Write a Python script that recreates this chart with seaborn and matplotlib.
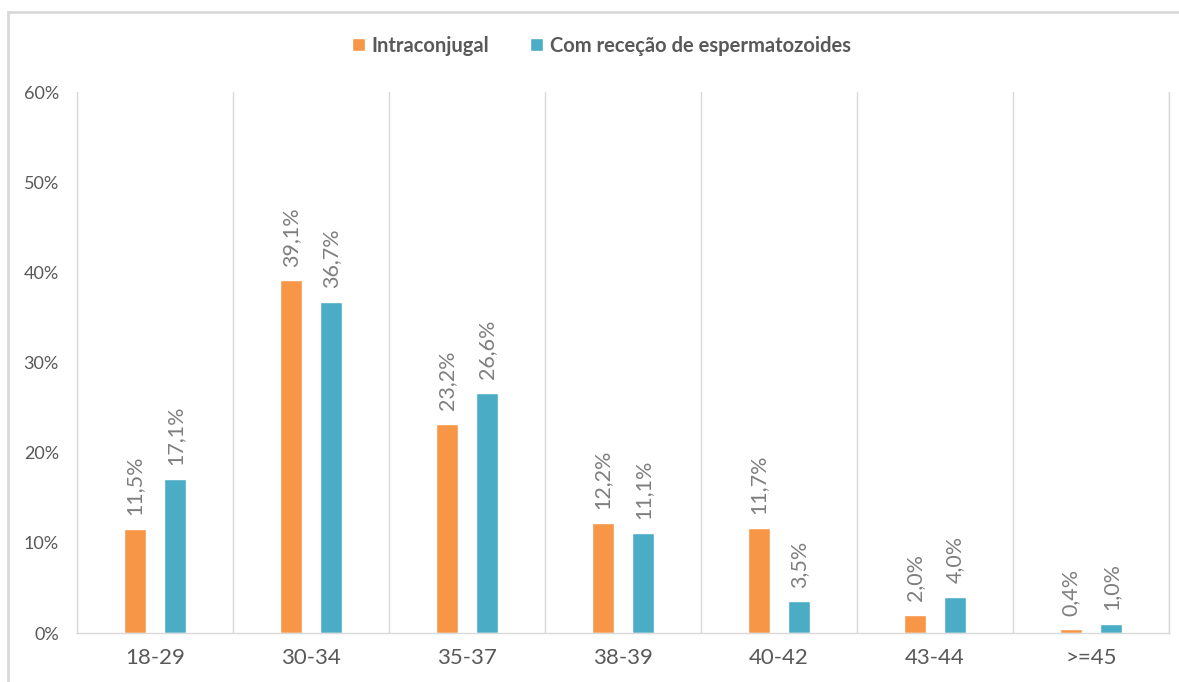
import matplotlib.pyplot as plt
import numpy as np
import pandas as pd
import seaborn as sns
from matplotlib.patches import Rectangle
from matplotlib.ticker import PercentFormatter

age_groups = ["18-29", "30-34", "35-37", "38-39", "40-42", "43-44", ">=45"]
series_names = ["Intraconjugal", "Com receção de espermatozoides"]
intraconjugal = [11.5, 39.1, 23.2, 12.2, 11.7, 2.0, 0.4]
rececao = [17.1, 36.7, 26.6, 11.1, 3.5, 4.0, 1.0]

df = pd.DataFrame({
    "idade": age_groups * 2,
    "serie": [series_names[0]] * len(age_groups) + [series_names[1]] * len(age_groups),
    "valor": intraconjugal + rececao,
})

sns.set_style("white")
plt.rcParams["font.family"] = ["Lato", "DejaVu Sans"]

text_grey = "#595959"
line_grey = "#d9d9d9"

fig = plt.figure(figsize=(11.79, 6.82), dpi=100)
ax = fig.add_axes([0.0653, 0.0718, 0.9262, 0.7933])

sns.barplot(data=df, x="idade", y="valor", hue="serie", order=age_groups, hue_order=series_names,
            palette=["#F79646", "#4BACC6"], saturation=1, width=0.52, gap=0.46, ax=ax)

ax.set_ylim(0, 60)
ax.set_xlim(-0.5, len(age_groups) - 0.5)
ax.set_yticks(np.arange(0, 61, 10))
ax.yaxis.set_major_formatter(PercentFormatter(xmax=100, decimals=0))
ax.set_xlabel("")
ax.set_ylabel("")

# vertical lines between categories
ax.set_xticks(np.arange(-0.5, len(age_groups), 1.0), minor=True)
ax.grid(axis="x", which="minor", color=line_grey, linewidth=1)
ax.tick_params(axis="x", which="both", length=0, labelsize=16, colors=text_grey, pad=11)
ax.tick_params(axis="y", length=7, color=line_grey, labelsize=13, labelcolor=text_grey, pad=6)
for side in ["left", "bottom", "right"]:
    ax.spines[side].set_color(line_grey)
    ax.spines[side].set_linewidth(1)
ax.spines["top"].set_visible(False)

for container, vals in zip(ax.containers, [intraconjugal, rececao]):
    labels = [f"{v:.1f}".replace(".", ",") + "%" for v in vals]
    ax.bar_label(container, labels=labels, rotation=90, padding=10, fontsize=15.5, color="#7f7f7f")

handles, labels = ax.get_legend_handles_labels()
ax.get_legend().remove()
leg = fig.legend(handles, labels, loc="center", bbox_to_anchor=(0.51, 0.933), ncol=2, frameon=False,
                 handlelength=0.65, handleheight=0.65, handletextpad=0.35, columnspacing=2.0,
                 prop={"size": 14.5, "weight": "bold"})
for t in leg.get_texts():
    t.set_color(text_grey)

fig.patches.append(Rectangle((8 / 1179, -0.05), 1.05, 1.05 - 12 / 682, transform=fig.transFigure,
                             fill=False, edgecolor=line_grey, linewidth=2))

fig.savefig("out.png", dpi=100)
plt.close(fig)
